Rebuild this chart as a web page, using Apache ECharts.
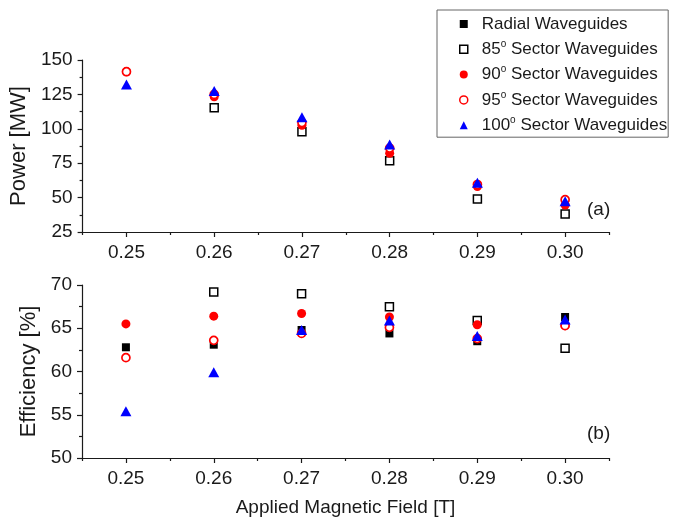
<!DOCTYPE html>
<html><head><meta charset="utf-8">
<script src="https://cdn.jsdelivr.net/npm/echarts@6.0.0/dist/echarts.min.js"></script>
<style>html,body{margin:0;padding:0;background:#fff}#c{width:676px;height:518px}</style>
</head><body><div id="c"></div>
<script>
// ---- data ----
const fieldLabels = ['0.25', '0.26', '0.27', '0.28', '0.29', '0.30'];
const seriesNames = ['Radial Waveguides', '85° Sector Waveguides', '90° Sector Waveguides', '95° Sector Waveguides', '100° Sector Waveguides'];
const legendLabels = ['Radial Waveguides', '85{sup|o} Sector Waveguides', '90{sup|o} Sector Waveguides', '95{sup|o} Sector Waveguides', '100{sup|o} Sector Waveguides'];

const powerRadial = [null, null, null, null, null, null];
const power85 = [null, 115.3, 97.9, 76.8, 49.0, 38.0];
const power90 = [141.5, 123.3, 102.5, 82.2, 58.0, 44.6];
const power95 = [141.5, 125.0, 104.5, 86.0, 59.5, 48.5];
const power100 = [132.2, 127.5, 108.4, 88.5, 60.8, 47.3];

const effRadial = [62.8, 63.1, 64.8, 64.4, 63.5, 66.3];
const eff85 = [null, 69.2, 69.0, 67.5, 65.9, 62.7];
const eff90 = [65.5, 66.4, 66.7, 66.3, 65.4, 65.3];
const eff95 = [61.6, 63.6, 64.4, 65.1, 63.8, 65.3];
const eff100 = [55.4, 59.9, 64.8, 65.9, 64.1, 66.0];

const powerTicks = {min: 25, max: 150, interval: 25};
const effTicks = {min: 50, max: 70, interval: 5};

// ---- styles ----
const FONT = 'Liberation Sans, Arial, Helvetica, sans-serif';
const AX = '#1a1a1a';
const markStyles = [
  {symbol: 'rect', symbolSize: 8, itemStyle: {color: '#000', opacity: 1}},
  {symbol: 'rect', symbolSize: 8, itemStyle: {color: '#fff', borderColor: '#000', borderWidth: 1.5, opacity: 1}},
  {symbol: 'circle', symbolSize: 9, itemStyle: {color: '#ff0000', opacity: 1}},
  {symbol: 'circle', symbolSize: 8, itemStyle: {color: '#fff', borderColor: '#ff0000', borderWidth: 1.7, opacity: 1}},
  {symbol: 'triangle', symbolSize: [11, 10], itemStyle: {color: '#0000ff', opacity: 1}}
];

const powerSets = [powerRadial, power85, power90, power95, power100];
const effSets = [effRadial, eff85, eff90, eff95, eff100];

function makeSeries(sets, gi) {
  return sets.map((vals, i) => Object.assign({
    type: 'scatter', name: seriesNames[i],
    xAxisIndex: gi * 2, yAxisIndex: gi,
    data: vals,
    emphasis: {disabled: true},
    z: 2 + i
  }, markStyles[i]));
}

function majorX(gi, extra) {
  return Object.assign({
    gridIndex: gi, type: 'category', data: fieldLabels, boundaryGap: true, position: 'bottom',
    axisLine: {show: true, lineStyle: {color: AX, width: 1.2}},
    axisTick: {show: true, alignWithLabel: true, length: 5, interval: 0, lineStyle: {color: AX, width: 1.2}},
    axisLabel: {show: true, interval: 0, fontSize: 19, margin: 11, color: '#1a1a1a', fontFamily: FONT},
    splitLine: {show: false}
  }, extra || {});
}
function minorX(gi) {
  return {
    gridIndex: gi, type: 'category', data: fieldLabels, boundaryGap: true, position: 'bottom',
    axisLine: {show: false},
    axisTick: {show: true, length: 3, interval: 0, lineStyle: {color: AX, width: 1.2}},
    axisLabel: {show: false}, splitLine: {show: false}
  };
}
function yAx(gi, t, name) {
  return {
    gridIndex: gi, type: 'value', min: t.min, max: t.max, interval: t.interval,
    name: name, nameLocation: 'middle', nameGap: 40,
    nameTextStyle: {fontSize: 22, color: '#1a1a1a', fontFamily: FONT},
    axisLine: {show: true, lineStyle: {color: AX, width: 1.2}},
    axisTick: {show: true, length: 5, lineStyle: {color: AX, width: 1.2}},
    minorTick: {show: true, splitNumber: 2, length: 3, lineStyle: {color: AX, width: 1.2}},
    axisLabel: {fontSize: 19, margin: 10, color: '#1a1a1a', fontFamily: FONT},
    splitLine: {show: false}, minorSplitLine: {show: false}
  };
}

const chart = echarts.init(document.getElementById('c'), null, {renderer: 'canvas'});
chart.setOption({
  animation: false,
  backgroundColor: '#fff',
  textStyle: {fontFamily: FONT},
  grid: [
    {left: 82, right: 67, top: 60, height: 172},
    {left: 82, right: 67, top: 285, height: 173}
  ],
  xAxis: [
    majorX(0), minorX(0),
    majorX(1, {name: 'Applied Magnetic Field [T]', nameLocation: 'middle', nameGap: 40,
      nameTextStyle: {fontSize: 19, color: '#1a1a1a', fontFamily: FONT}}),
    minorX(1)
  ],
  yAxis: [yAx(0, powerTicks, 'Power [MW]'), yAx(1, effTicks, 'Efficiency [%]')],
  legend: {
    data: seriesNames, orient: 'vertical', left: 437, top: 10,
    itemWidth: 8, itemHeight: 8, itemGap: 5.3,
    symbolKeepAspect: true,
    itemStyle: {borderWidth: 1.5},
    padding: [4, 1, 2, 22],
    borderColor: '#666', borderWidth: 1, backgroundColor: '#fff',
    selectedMode: false,
    formatter: name => '{sp|}' + legendLabels[seriesNames.indexOf(name)],
    textStyle: {
      fontSize: 17, color: '#1a1a1a', fontFamily: FONT, lineHeight: 20,
      rich: {
        sp: {width: 9},
        sup: {fontSize: 10, lineHeight: 12, verticalAlign: 'top', color: '#1a1a1a', fontFamily: FONT}
      }
    }
  },
  graphic: [
    {type: 'text', left: 587, top: 200, style: {text: '(a)', fontSize: 19, fill: '#1a1a1a', font: '19px ' + FONT}},
    {type: 'text', left: 587, top: 424, style: {text: '(b)', fontSize: 19, fill: '#1a1a1a', font: '19px ' + FONT}}
  ],
  series: makeSeries(powerSets, 0).concat(makeSeries(effSets, 1))
});
</script>
</body></html>
